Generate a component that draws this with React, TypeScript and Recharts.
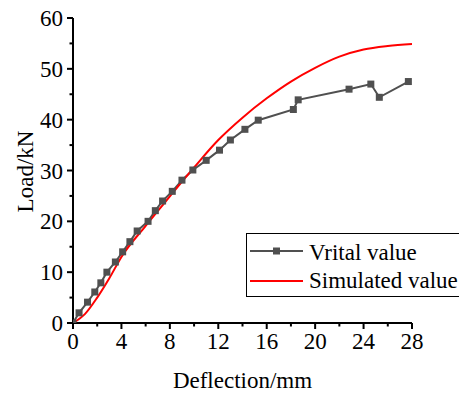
import { LineChart, Line, XAxis, YAxis } from 'recharts';

const testDeflection = [0, 0.5, 1.2, 1.8, 2.3, 2.8, 3.5, 4.1, 4.7, 5.3, 6.2, 6.8, 7.4, 8.2, 9.0, 9.9, 11.0, 12.1, 13.0, 14.2, 15.3, 18.2, 18.6, 22.8, 24.6, 25.3, 27.7];
const testLoad = [0, 2, 4.1, 6.1, 7.9, 10, 12, 14, 16, 18.1, 20, 22.1, 24, 25.9, 28.1, 30.1, 32, 34, 36, 38.1, 39.9, 42, 43.9, 46, 47, 44.4, 47.5];

const simDeflection = [0, 1, 2, 3, 4, 6, 8, 10, 12, 14, 16, 18, 20, 22, 24, 26, 28];
const simLoad = [0, 1.8, 5.0, 8.8, 13.0, 19.1, 24.9, 30.6, 36.0, 40.4, 44.2, 47.5, 50.2, 52.4, 53.8, 54.5, 54.9];

// every tick, major ones get a label
const xTicks = [0, 2, 4, 6, 8, 10, 12, 14, 16, 18, 20, 22, 24, 26, 28];
const yTicks = [0, 5, 10, 15, 20, 25, 30, 35, 40, 45, 50, 55, 60];
const xLabelStep = 4;
const yLabelStep = 10;

const testData = testDeflection.map((x, i) => ({ x, y: testLoad[i] }));
const simData = simDeflection.map((x, i) => ({ x, y: simLoad[i] }));

const FONT = '"Liberation Serif", "Times New Roman", serif';
const FS = 23;
const GRAY = '#505050';
const TICK_GAP = 10; // tickSize + tickMargin

const Square = (props: any) => {
  const { cx, cy } = props;
  if (cx == null || cy == null) return null;
  return <rect x={cx - 3.5} y={cy - 3.5} width={7} height={7} fill={GRAY} />;
};

const XTick = (props: any) => {
  const { x, y, payload } = props;
  const major = payload.value % xLabelStep === 0;
  const axisY = y - TICK_GAP;
  return (
    <g>
      <line x1={x} y1={axisY} x2={x} y2={axisY + (major ? 6 : 3.5)} stroke="#000" strokeWidth={2} />
      {major && (
        <text x={x} y={y} dy="0.71em" textAnchor="middle" fill="#000" fontSize={FS} fontFamily={FONT}>
          {payload.value}
        </text>
      )}
    </g>
  );
};

const YTick = (props: any) => {
  const { x, y, payload } = props;
  const major = payload.value % yLabelStep === 0;
  const axisX = x + TICK_GAP;
  return (
    <g>
      <line x1={axisX} y1={y} x2={axisX - (major ? 6 : 3.5)} y2={y} stroke="#000" strokeWidth={2} />
      {major && (
        <text x={x} y={y} dy="0.355em" textAnchor="end" fill="#000" fontSize={FS} fontFamily={FONT}>
          {payload.value}
        </text>
      )}
    </g>
  );
};

const XLabel = (props: any) => {
  const vb = props.viewBox;
  return (
    <text x={vb.x + vb.width / 2} y={vb.y + vb.height - 6} textAnchor="middle" fill="#000" fontSize={FS} fontFamily={FONT}>
      Deflection/mm
    </text>
  );
};

const YLabel = (props: any) => {
  const vb = props.viewBox;
  const cx = vb.x + 33;
  const cy = vb.y + vb.height / 2 + 1;
  return (
    <text x={cx} y={cy} transform={`rotate(-90 ${cx} ${cy})`} textAnchor="middle" fill="#000" fontSize={FS} fontFamily={FONT}>
      Load/kN
    </text>
  );
};

export default function App() {
  return (
    <div style={{ position: 'relative', width: 467, height: 394, margin: '-8px 0 0 -8px', background: '#fff' }}>
      <LineChart width={467} height={394} margin={{ top: 18, right: 55, bottom: 0, left: 0 }}>
        <XAxis
          type="number"
          dataKey="x"
          domain={[0, 28]}
          allowDataOverflow
          ticks={xTicks}
          interval={0}
          height={71}
          tickSize={6}
          tickMargin={4}
          axisLine={{ stroke: '#000', strokeWidth: 2 }}
          tickLine={false}
          tick={<XTick />}
          label={<XLabel />}
        />
        <YAxis
          type="number"
          domain={[0, 60]}
          allowDataOverflow
          ticks={yTicks}
          interval={0}
          width={73}
          tickSize={6}
          tickMargin={4}
          axisLine={{ stroke: '#000', strokeWidth: 2 }}
          tickLine={false}
          tick={<YTick />}
          label={<YLabel />}
        />
        <Line
          data={testData}
          dataKey="y"
          type="linear"
          stroke={GRAY}
          strokeWidth={2}
          dot={<Square />}
          activeDot={false}
          isAnimationActive={false}
        />
        <Line
          data={simData}
          dataKey="y"
          type="monotone"
          stroke="#ff0000"
          strokeWidth={2}
          dot={false}
          activeDot={false}
          isAnimationActive={false}
        />
      </LineChart>
      <svg
        width={218}
        height={64}
        style={{ position: 'absolute', left: 246, top: 233 }}
        fontFamily={FONT}
        fontSize={FS}
      >
        <rect x={0.5} y={0.5} width={217} height={63} fill="#fff" stroke="#000" strokeWidth={1} />
        <line x1={4} y1={18} x2={57} y2={18} stroke={GRAY} strokeWidth={2} />
        <rect x={27} y={14.5} width={7} height={7} fill={GRAY} />
        <line x1={4} y1={48} x2={57} y2={48} stroke="#ff0000" strokeWidth={2} />
        <text x={63} y={27} fill="#000">Vrital value</text>
        <text x={63} y={55} fill="#000">Simulated value</text>
      </svg>
    </div>
  );
}
